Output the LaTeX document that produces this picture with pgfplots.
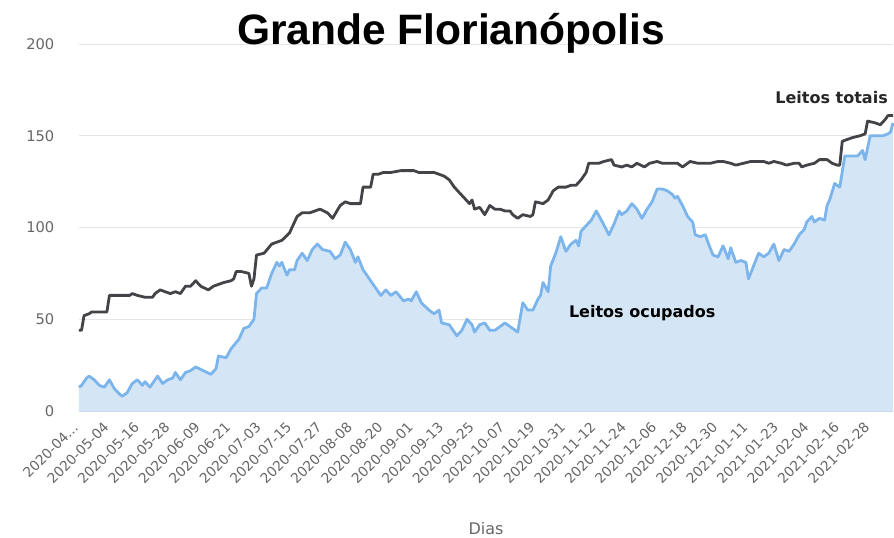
\documentclass[border=0pt]{standalone}
\usepackage{pgfplots}
\pgfplotsset{compat=1.18}
\usepackage{fontspec}
\setmainfont{DejaVu Sans}
\newfontfamily\titlefont{Liberation Sans}
\definecolor{hcblue}{HTML}{7CB5EC}
\definecolor{hcfill}{HTML}{D4E5F6}
\definecolor{hcdark}{HTML}{434348}
\definecolor{gridgray}{HTML}{E6E6E6}
\definecolor{tickgray}{HTML}{666666}
\definecolor{axisline}{HTML}{CCD6EB}

% day index (0 = 2020-04-22), number of beds
\pgfplotstableread{
d v
0 44
1 44
2 52
4 53
5 54
11 54
12 63
20 63
21 64
23 63
26 62
29 62
30 64
32 66
34 65
36 64
38 65
40 64
42 68
44 68
46 71
48 68
51 66
53 68
55 69
57 70
60 71
61 72
62 76
64 76
67 75
68 68
69 72
70 85
73 86
76 91
80 93
83 97
86 106
88 108
91 108
95 110
98 108
100 105
103 112
105 114
107 113
111 113
112 122
115 122
116 129
118 129
120 130
123 130
127 131
132 131
134 130
140 130
144 128
146 126
148 122
150 119
152 116
154 113
155 115
156 110
158 111
160 107
162 112
164 110
166 110
168 109
170 109
171 107
173 105
175 107
178 106
179 107
180 114
183 113
185 115
187 120
189 122
192 122
194 123
196 123
198 126
200 130
201 135
203 135
205 135
207 136
210 137
211 134
214 133
216 134
218 133
220 135
223 133
225 135
228 136
230 135
233 135
236 135
238 133
241 136
244 135
247 135
249 135
252 136
254 136
257 135
259 134
262 135
265 136
267 136
270 136
272 135
274 136
277 135
279 134
282 135
284 135
285 133
287 134
290 135
292 137
295 137
297 135
299 134
300 134
301 147
303 148
305 149
308 150
310 151
311 158
314 157
316 156
318 159
319 161
321 161
}\totais

\pgfplotstableread{
d v
0 13
1 14
3 18
4 19
6 17
8 14
10 13
12 17
14 12
17 8
19 10
21 15
23 17
25 14
26 16
28 13
31 19
33 15
35 17
37 18
38 21
40 17
42 21
44 22
46 24
49 22
52 20
54 23
55 30
58 29
60 34
63 39
65 45
67 46
69 50
70 64
72 67
74 67
76 75
78 81
79 79
80 81
82 74
83 77
85 77
86 82
88 86
90 82
92 88
94 91
96 88
99 87
101 83
103 85
105 92
107 88
109 81
110 84
112 77
114 73
117 67
119 63
121 66
123 63
125 65
128 60
130 61
131 60
133 65
135 59
138 55
140 53
142 55
143 48
146 47
148 43
149 41
151 44
153 50
155 47
156 43
158 47
160 48
162 44
164 44
166 46
168 48
170 46
173 43
175 59
177 55
179 55
181 61
182 63
183 70
185 65
186 79
188 86
190 95
192 87
194 91
196 93
197 90
198 98
200 101
202 104
204 109
206 104
209 96
211 102
213 109
214 107
216 109
218 113
220 110
222 105
224 110
226 114
228 121
230 121
232 120
234 118
235 116
236 117
238 112
240 106
242 103
243 96
245 95
247 96
248 92
250 85
252 84
254 90
256 83
257 89
259 81
261 82
263 81
264 72
266 79
268 86
270 84
272 86
274 91
276 82
278 88
280 87
282 91
284 96
286 99
287 103
289 106
290 103
292 105
294 104
295 112
296 115
298 124
300 122
302 139
305 139
307 139
309 142
310 137
312 150
315 150
317 150
319 151
320 152
321 157
}\ocupados

\begin{document}
\begin{tikzpicture}
\begin{axis}[
  at={(59.25pt,94.5pt)}, anchor=south west,
  scale only axis, width=610.5pt, height=275.25pt,
  xmin=0, xmax=321, ymin=0, ymax=200,
  axis lines=left,
  x axis line style={draw=axisline, line width=0.75pt, -},
  y axis line style={draw=none},
  major tick length=0pt,
  ymajorgrids,
  grid style={draw=gridgray, line width=0.75pt},
  ytick={0,50,100,150,200},
  /pgf/number format/assume math mode=true,
  yticklabel style={font=\fontsize{11}{13}\selectfont, text=tickgray},
  yticklabel shift=15pt,
  xtick={0,12,...,312},
  xticklabels={2020-04\ldots,2020-05-04,2020-05-16,2020-05-28,2020-06-09,2020-06-21,2020-07-03,2020-07-15,2020-07-27,2020-08-08,2020-08-20,2020-09-01,2020-09-13,2020-09-25,2020-10-07,2020-10-19,2020-10-31,2020-11-12,2020-11-24,2020-12-06,2020-12-18,2020-12-30,2021-01-11,2021-01-23,2021-02-04,2021-02-16,2021-02-28},
  xticklabel style={font=\fontsize{10.3}{12}\selectfont, text=tickgray, rotate=45, anchor=east},
  xticklabel shift=8pt,
  xlabel={Dias},
  x label style={at={(axis description cs:0.5,0)}, anchor=center, yshift=-88pt,
    font=\fontsize{12}{14}\selectfont, text=tickgray},
  clip=false,
]
\addplot[fill=hcfill, draw=none] table[x=d, y=v] {\ocupados} \closedcycle;
\addplot[hcblue, line width=2.1pt, line join=round] table[x=d, y=v] {\ocupados};
\addplot[hcdark, line width=2.1pt, line join=round] table[x=d, y=v] {\totais};
\node[anchor=east, font=\bfseries\fontsize{12}{14}\selectfont, text=black!85]
  at (axis cs:320.8,171.1) {Leitos totais};
\node[anchor=center, font=\bfseries\fontsize{12}{14}\selectfont, text=black]
  at (axis cs:222.1,53.4) {Leitos ocupados};
\end{axis}
\node[anchor=base, font=\titlefont\bfseries\fontsize{31.9}{36}\selectfont]
  at (338.25pt,369.75pt) {Grande Florianópolis};
\pgfresetboundingbox
\path[use as bounding box] (0,0) rectangle (670.5pt,402.75pt);
\end{tikzpicture}
\end{document}
